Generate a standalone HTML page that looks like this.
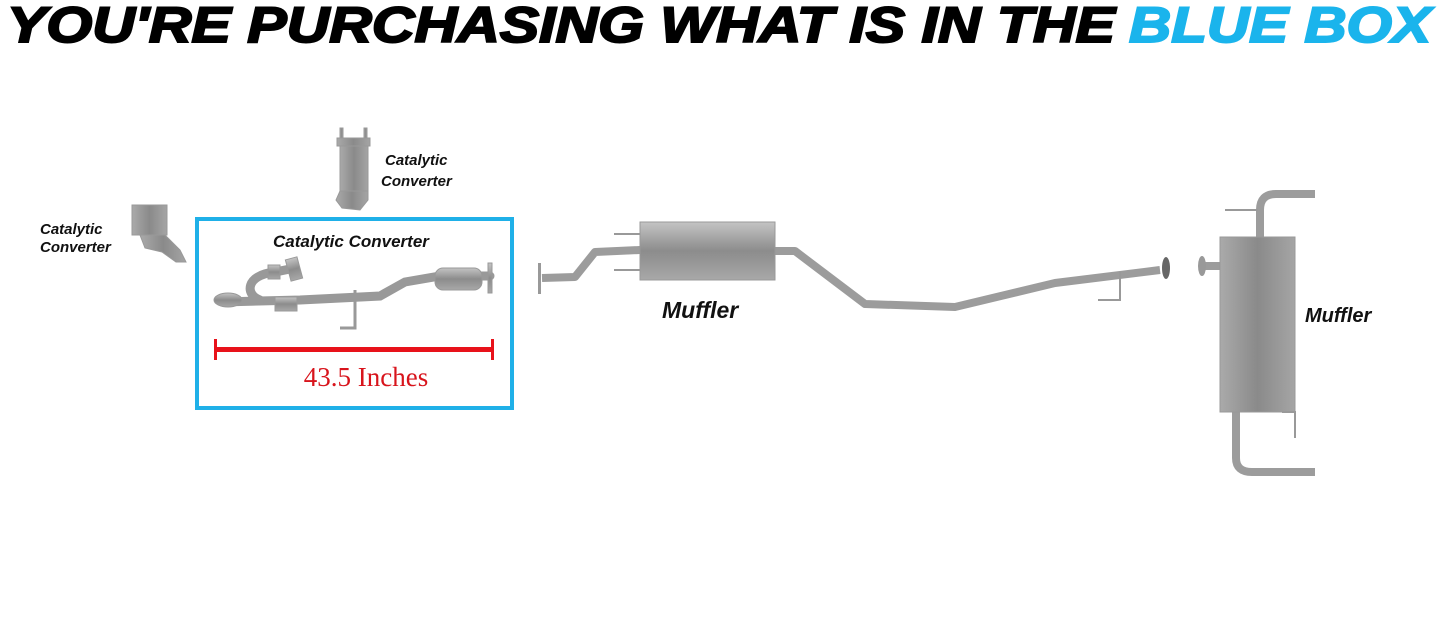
<!DOCTYPE html>
<html><head><meta charset="utf-8"><style>
html,body{margin:0;padding:0;background:#fff;width:1445px;height:619px;overflow:hidden}
svg{display:block}
.l{font-family:"Liberation Sans",sans-serif;font-weight:bold;font-style:italic;fill:#111}
</style></head><body>
<svg width="1445" height="619" viewBox="0 0 1445 619" xmlns="http://www.w3.org/2000/svg">
<defs>
<linearGradient id="g" x1="0" y1="0" x2="0" y2="1"><stop offset="0" stop-color="#c4c4c4"/><stop offset=".5" stop-color="#8c8c8c"/><stop offset="1" stop-color="#a8a8a8"/></linearGradient>
<linearGradient id="gh" x1="0" y1="0" x2="1" y2="0"><stop offset="0" stop-color="#aaa"/><stop offset=".5" stop-color="#8a8a8a"/><stop offset="1" stop-color="#a5a5a5"/></linearGradient>
</defs>
<text x="7" y="42" class="l" font-size="50" textLength="1108" lengthAdjust="spacingAndGlyphs" style="fill:#000;stroke:#000;stroke-width:2">YOU'RE PURCHASING WHAT IS IN THE</text>
<text x="1129" y="42" class="l" font-size="50" textLength="302" lengthAdjust="spacingAndGlyphs" style="fill:#1ab4ec;stroke:#1ab4ec;stroke-width:2">BLUE BOX</text>

<!-- left cat -->
<g fill="url(#gh)" stroke="#999" stroke-width="1">
<rect x="132" y="205" width="35" height="30"/>
<path d="M140 235 L165 235 L180 250 L186 262 L176 262 L162 252 L145 248 Z"/>
</g>
<text x="40" y="234" class="l" font-size="15">Catalytic</text>
<text x="40" y="252" class="l" font-size="15">Converter</text>

<!-- top cat -->
<g fill="url(#gh)" stroke="#999" stroke-width="1">
<rect x="340" y="128" width="3" height="14"/><rect x="364" y="128" width="3" height="14"/>
<rect x="337" y="138" width="33" height="8"/>
<rect x="340" y="146" width="28" height="45"/>
<path d="M340 191 L368 191 L368 200 L360 210 L342 208 L336 200 Z"/>
</g>
<text x="385" y="165" class="l" font-size="15">Catalytic</text>
<text x="381" y="186" class="l" font-size="15">Converter</text>

<!-- blue box -->
<rect x="197" y="219" width="315" height="189" fill="none" stroke="#1fb0e8" stroke-width="4"/>
<text x="273" y="247" class="l" font-size="17">Catalytic Converter</text>
<g fill="none" stroke="#999" stroke-linecap="round">
<path d="M222 302 L300 300 L380 296 L405 282 L440 276 L490 276" stroke-width="9"/>
<path d="M260 300 C245 295 245 275 275 272 L295 268" stroke-width="9"/>
</g>
<g fill="url(#g)" stroke="#999">
<ellipse cx="228" cy="300" rx="14" ry="7"/>
<rect x="275" y="297" width="22" height="14"/>
<rect x="268" y="265" width="12" height="14"/>
<rect x="288" y="258" width="12" height="22" transform="rotate(-15 294 269)"/>
<rect x="435" y="268" width="47" height="22" rx="8"/>
<rect x="488" y="263" width="4" height="30"/>
</g>
<path d="M355 290 L355 328 L340 328" fill="none" stroke="#999" stroke-width="3"/>
<rect x="215" y="347" width="278" height="5" fill="#e8121a"/>
<rect x="214" y="339" width="3" height="21" fill="#e8121a"/>
<rect x="491" y="339" width="3" height="21" fill="#e8121a"/>
<text x="366" y="386" font-family="Liberation Serif,serif" font-size="27" fill="#d8141c" text-anchor="middle">43.5 Inches</text>

<!-- muffler 1 line -->
<g fill="none" stroke="#9c9c9c" stroke-width="8" stroke-linejoin="round">
<path d="M542 278 L575 277 L595 252 L640 250"/>
<path d="M775 251 L795 251 L865 304 L955 307 L1055 283 L1160 270"/>
</g>
<rect x="538" y="263" width="3" height="31" fill="#999"/>
<path d="M614 234 L640 234 M614 270 L640 270" stroke="#999" stroke-width="2"/>
<rect x="640" y="222" width="135" height="58" fill="url(#g)" stroke="#999"/>
<ellipse cx="1166" cy="268" rx="4" ry="11" fill="#666"/>
<path d="M1120 272 L1120 300 L1098 300" fill="none" stroke="#999" stroke-width="2"/>
<text x="662" y="318" class="l" font-size="23">Muffler</text>

<!-- muffler 2 -->
<g fill="none" stroke="#9c9c9c" stroke-width="8">
<path d="M1260 238 L1260 210 Q1260 194 1276 194 L1315 194"/>
<path d="M1236 410 L1236 458 Q1236 472 1252 472 L1315 472"/>
<path d="M1202 266 L1220 266"/>
</g>
<path d="M1225 210 L1258 210" stroke="#999" stroke-width="2"/>
<ellipse cx="1202" cy="266" rx="4" ry="10" fill="#999"/>
<rect x="1220" y="237" width="75" height="175" fill="url(#gh)" stroke="#999"/>
<path d="M1282 412 L1295 412 L1295 438" fill="none" stroke="#999" stroke-width="2"/>
<text x="1305" y="322" class="l" font-size="20">Muffler</text>
</svg>
</body></html>
